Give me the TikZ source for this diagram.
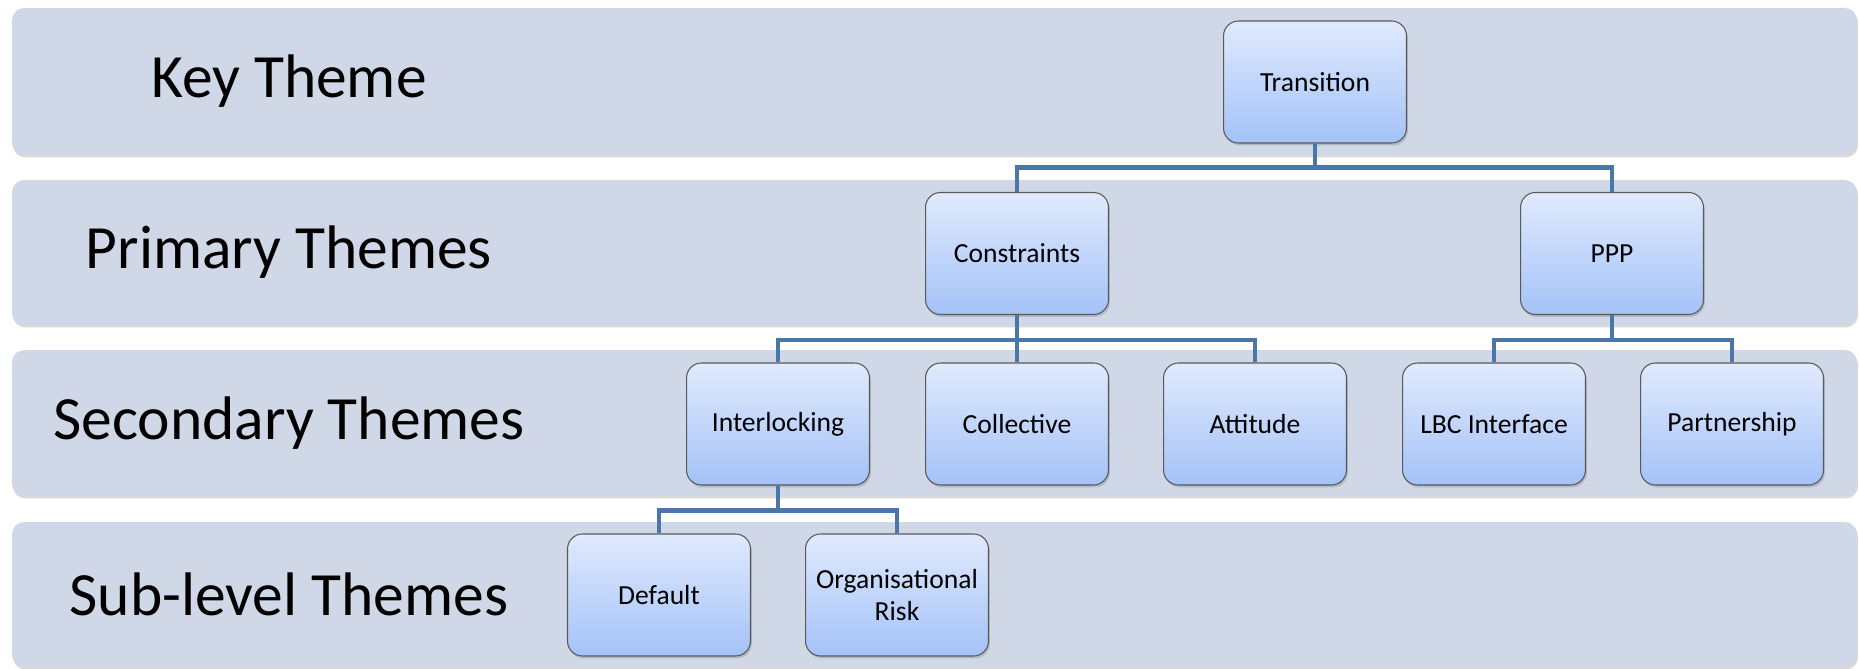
\documentclass[tikz,border=0pt]{standalone}
\usepackage{fontspec}
\setmainfont{Carlito}
\usetikzlibrary{shadows}
\definecolor{bandgray}{RGB}{208,215,230}
\definecolor{boxtop}{RGB}{224,234,253}
\definecolor{boxbot}{RGB}{164,194,248}
\definecolor{linkblue}{RGB}{74,118,168}

\begin{document}
\begin{tikzpicture}[x=0.02cm,y=-0.02cm,
band/.style={fill=bandgray,rounded corners=7pt,drop shadow={opacity=.3,shadow xshift=.6pt,shadow yshift=-1.4pt}},
lbl/.style={font=\fontsize{35}{40}\selectfont},
theme/.style={draw=gray!70!black,line width=.6pt,rounded corners=8.5pt,top color=boxtop,bottom color=boxbot,minimum width=3.66cm,minimum height=2.44cm,align=center,font=\fontsize{15.7}{18}\selectfont,drop shadow={opacity=.35,shadow xshift=.8pt,shadow yshift=-1.4pt}},
link/.style={draw=linkblue,line width=2.6pt}]

\useasboundingbox(0,0)rectangle(1859,669);
% the four level bands
\path[band](12,8)rectangle(1857,155);
\path[band](12,180)rectangle(1857,325);
\path[band](12,350)rectangle(1857,496);
\path[band](12,522)rectangle(1857,667);
\node[lbl](l1)at(289,81.5){Key Theme};
\node[lbl](l2)at(289,252.5){Primary Themes};
\node[lbl](l3)at(289,423){Secondary Themes};
\node[lbl](l4)at(289,594.5){Sub-level Themes};

% themes
\node[theme](tr)at(1315,82){Transition};
\node[theme](con)at(1017,253.5){Constraints};
\node[theme](ppp)at(1612,253.5){PPP};
\node[theme](inter)at(778,424){Interlocking};
\node[theme](coll)at(1017,424){Collective};
\node[theme](att)at(1255,424){Attitude};
\node[theme](lbc)at(1494,424){LBC Interface};
\node[theme](part)at(1732,424){Partnership};
\node[theme](def)at(659,595){Default};
\node[theme](org)at(897,595){Organisational\\Risk};

% tree links
\draw[link](tr.south)--++(0,24)-|(con.north);
\draw[link](tr.south)--++(0,24)-|(ppp.north);
\draw[link](con.south)--++(0,25)-|(inter.north);
\draw[link](con.south)--(coll.north);
\draw[link](con.south)--++(0,25)-|(att.north);
\draw[link](ppp.south)--++(0,25)-|(lbc.north);
\draw[link](ppp.south)--++(0,25)-|(part.north);
\draw[link](inter.south)--++(0,25)-|(def.north);
\draw[link](inter.south)--++(0,25)-|(org.north);
\end{tikzpicture}
\end{document}
